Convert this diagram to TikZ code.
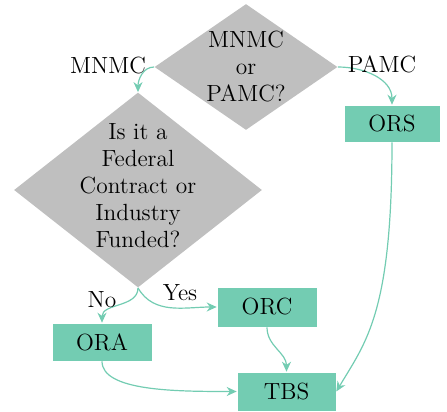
\documentclass[tikz,border=0pt]{standalone}
\usetikzlibrary{shapes.geometric,arrows.meta}
\definecolor{boxgreen}{HTML}{73CCB2}
\definecolor{diagray}{HTML}{BFBFBF}
\begin{document}
\begin{tikzpicture}[x=0.5pt,y=0.5pt,
  every node/.style={font=\fontsize{11.7}{13.5}\selectfont, inner sep=0pt},
  dia/.style={diamond, fill=diagray, inner sep=0pt},
  gbox/.style={rectangle, fill=boxgreen, draw=white, line width=0.3pt},
  arr/.style={draw=boxgreen, line width=0.6pt, -{Stealth[length=5pt,width=4.5pt]}},
  lab/.style={text=black}]
\useasboundingbox (0,0) rectangle (447,-412);
% diamonds
\node[dia, minimum width=91.5pt, minimum height=63pt] (d1) at (246,-67) {};
\node[align=center] (d1t) at (246,-67) {MNMC\\or\\PAMC?};
\node[dia, minimum width=124pt, minimum height=97.5pt] (d2) at (138,-190) {};
\node[align=center] (d2t) at (138,-186) {Is it a\\Federal\\Contract or\\Industry\\Funded?};
% boxes
\node[gbox, minimum width=48pt, minimum height=18.5pt] (ors) at (392,-123.5) {ORS};
\node[gbox, minimum width=50pt, minimum height=20pt] (orc) at (267,-307) {ORC};
\node[gbox, minimum width=50pt, minimum height=19pt] (ora) at (102,-342) {ORA};
\node[gbox, minimum width=49.5pt, minimum height=19.5pt] (tbs) at (286.5,-391.5) {TBS};
% connectors
\draw[arr] (d1.west) to[out=180,in=90] (d2.north);
\node[lab] (lmnmc) at (108,-66) {MNMC};
\draw[arr] (d1.east) to[out=0,in=90] (ors.north);
\node[lab] (lpamc) at (382,-64) {PAMC};
\draw[arr] (ors.south) .. controls +(0,-170) and +(30,50) .. (tbs.east);
\draw[arr] (d2.south) to[out=-90,in=90] (ora.north);
\node[lab] (lno) at (102,-300) {No};
\draw[arr] (d2.south) to[out=-60,in=180] (orc.west);
\node[lab] (lyes) at (180,-293) {Yes};
\draw[arr] (orc.south) to[out=-90,in=90] (tbs.north);
\draw[arr] (ora.south) .. controls +(0,-30) and +(-60,0) .. (tbs.west);
\end{tikzpicture}
\end{document}
